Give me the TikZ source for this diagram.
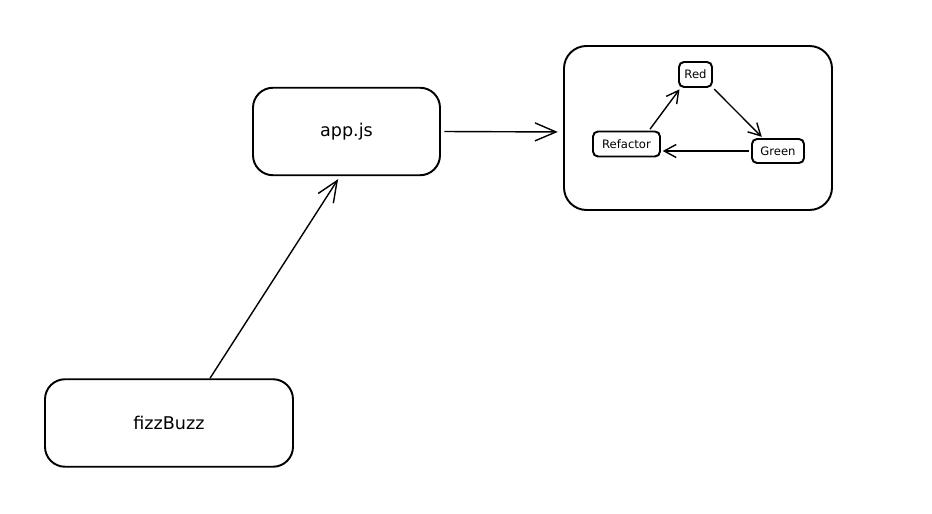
\documentclass[tikz,border=0pt]{standalone}
\usepackage{fontspec}
\setmainfont{DejaVu Sans}
\usepackage{tikz}
\usetikzlibrary{arrows.meta,positioning,calc}

\begin{document}
\begin{tikzpicture}[
    filebox/.style={rectangle, draw=black, line width=1.1pt, rounded corners=0.4cm, align=center, minimum height=1.75cm, font=\fontsize{10}{12}\selectfont},
    groupbox/.style={rectangle, draw=black, line width=1.1pt, rounded corners=0.45cm, minimum width=5.36cm, minimum height=3.28cm},
    stagebox/.style={rectangle, draw=black, line width=1.1pt, rounded corners=0.1cm, align=center, inner sep=1pt, minimum height=0.5cm, font=\fontsize{6.6}{8}\selectfont},
    arrow/.style={-{Straight Barb[length=0.42cm, width=0.36cm]}, line width=0.8pt, draw=black},
    smallarrow/.style={-{Straight Barb[length=0.24cm, width=0.26cm]}, line width=0.8pt, draw=black, shorten >=1pt, shorten <=1pt}
]
    \useasboundingbox (0,0) rectangle (18.64,10.28);

    \node [filebox, minimum width=4.96cm] (fizz) at (3.38,1.82) {fizzBuzz};
    \node [filebox, minimum width=3.74cm] (app) at (6.93,7.65) {app.js};

    % red / green / refactor cycle
    \node [groupbox] (cycle) at (13.96,7.72) {};
    \node [stagebox, minimum width=0.66cm] (red) at (13.91,8.79) {Red};
    \node [stagebox, minimum width=1.34cm] (refactor) at (12.53,7.40) {Refactor};
    \node [stagebox, minimum width=1.04cm, minimum height=0.48cm] (green) at (15.56,7.26) {Green};

    \draw [arrow, shorten >=2pt] ([xshift=0.82cm]fizz.north) -- ([xshift=-0.13cm]app.south);
    \draw [arrow, shorten <=2pt, shorten >=3pt] (app.east) -- ([yshift=-0.08cm]cycle.west);
    \draw [smallarrow] ([xshift=0.45cm]refactor.north) -- ([xshift=0.05cm]red.south west);
    \draw [smallarrow] (red.south east) -- ([xshift=-0.3cm]green.north);
    \draw [smallarrow] (green.west) -- (green.west -| refactor.east);
\end{tikzpicture}
\end{document}
